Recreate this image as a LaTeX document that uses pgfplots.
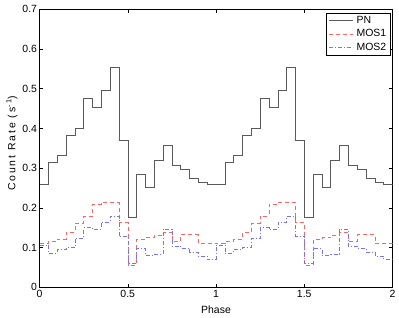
\documentclass[border=0pt]{standalone}
\usepackage{fontspec}
\setmainfont{Liberation Sans}
\usepackage{pgfplots}
\usepackage{pgfplotstable}
\pgfplotsset{compat=1.18}
\definecolor{pncol}{RGB}{90,90,90}
\definecolor{m1col}{RGB}{255,100,100}
\definecolor{m2col}{RGB}{115,115,255}
\pgfplotstableread{
x     pn     m1     m2
0.00  0.260  0.110  0.107
0.05  0.314  0.115  0.086
0.10  0.333  0.122  0.095
0.15  0.384  0.139  0.100
0.20  0.401  0.161  0.123
0.25  0.477  0.180  0.150
0.30  0.453  0.209  0.146
0.35  0.497  0.214  0.164
0.40  0.554  0.214  0.180
0.45  0.370  0.163  0.129
0.50  0.176  0.056  0.060
0.55  0.285  0.120  0.098
0.60  0.252  0.125  0.081
0.65  0.320  0.131  0.083
0.70  0.358  0.138  0.147
0.75  0.308  0.116  0.104
0.80  0.297  0.133  0.099
0.85  0.274  0.133  0.088
0.90  0.265  0.111  0.078
0.95  0.259  0.111  0.070
1.00  0.260  0.110  0.107
1.05  0.314  0.115  0.086
1.10  0.333  0.122  0.095
1.15  0.384  0.139  0.100
1.20  0.401  0.161  0.123
1.25  0.477  0.180  0.150
1.30  0.453  0.209  0.146
1.35  0.497  0.214  0.164
1.40  0.554  0.214  0.180
1.45  0.370  0.163  0.129
1.50  0.176  0.056  0.060
1.55  0.285  0.120  0.098
1.60  0.252  0.125  0.081
1.65  0.320  0.131  0.083
1.70  0.358  0.138  0.147
1.75  0.308  0.116  0.104
1.80  0.297  0.133  0.099
1.85  0.274  0.133  0.088
1.90  0.265  0.111  0.078
1.95  0.259  0.111  0.070
2.00  0.259  0.111  0.070
}\data
\begin{document}
\begin{tikzpicture}
\begin{axis}[
  scale only axis, width=353bp, height=278bp,
  xmin=0, xmax=2, ymin=0, ymax=0.7,
  xtick={0,0.5,1,1.5,2},
  ytick={0,0.1,0.2,0.3,0.4,0.5,0.6,0.7},
  yticklabels={0,0.1,0.2,0.3,0.4,0.5,0.6,0.7},
  tick align=inside, major tick length=3.5bp,
  tick style={black, line width=0.5pt},
  axis line style={line width=0.6pt},
  font=\fontsize{10.5}{12}\selectfont,
  /pgf/number format/assume math mode=true,
  xticklabel style={yshift=1bp},
  yticklabel style={xshift=1bp},
  xlabel={Phase}, ylabel={Count Rate (s\textsuperscript{-1})},
  xlabel style={yshift=-2bp},
  ylabel style={yshift=-2bp, xshift=5bp, font=\fontsize{10.5}{12}\selectfont\addfontfeature{LetterSpace=18}},
  legend style={at={(0.993,0.986)}, anchor=north east, draw=black,
    line width=0.5pt, font=\fontsize{10.5}{12}\selectfont,
    inner xsep=2.5bp, inner ysep=1bp, row sep=1bp,
    nodes={inner sep=1bp, text height=8bp, text depth=2.5bp}},
  legend cell align=left,
  legend image code/.code={\draw[#1] (0bp,0bp) -- (24bp,0bp); \path (26bp,0bp);},
]
\addplot[const plot, pncol, line width=0.5pt] table[x=x,y=pn]{\data};
\addplot[const plot, m1col, line width=0.5pt, dash pattern=on 4bp off 3bp] table[x=x,y=m1]{\data};
\addplot[const plot, m2col, line width=0.5pt, dash pattern=on 4bp off 2bp on 1bp off 2bp] table[x=x,y=m2]{\data};
\legend{PN,MOS1,MOS2}
\end{axis}
\useasboundingbox ([xshift=-39.5bp,yshift=-29.7bp]current axis.south west) rectangle ([xshift=6.5bp,yshift=9.3bp]current axis.north east);
\end{tikzpicture}
\end{document}
